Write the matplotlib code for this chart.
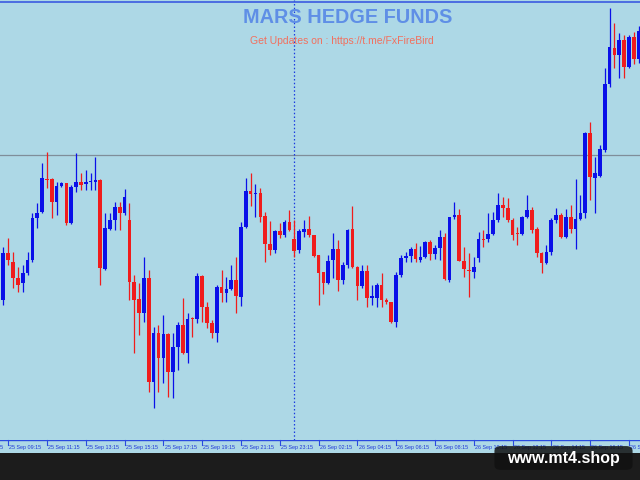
import matplotlib
matplotlib.use("Agg")
import matplotlib.pyplot as plt
from matplotlib.patches import FancyBboxPatch
import numpy as np

# ---- data (price units) ----
opens = [180,227,218,202,197,207,220,262,268,301,301,278,294,297,257,293,298,296,298,298,
         300,211,251,260,273,267,260,198,181,167,202,98,147,122,146,108,133,155,127,162,
         161,204,173,157,147,193,187,191,200,183,253,289,286,287,264,236,230,249,245,258,
         241,230,248,251,245,225,208,197,220,231,200,215,251,213,194,209,182,182,195,180,
         178,158,205,222,224,231,220,223,238,226,232,243,200,263,265,219,210,208,222,241,
         241,246,260,275,272,260,247,246,263,270,251,227,217,228,260,265,243,263,251,261,
         267,347,302,304,330,396,432,425,440,413,443,421]
highs = [233,242,228,213,215,228,267,277,317,328,302,298,298,297,295,327,307,310,307,323,
         301,267,267,278,278,291,277,205,197,223,210,153,155,165,147,147,158,182,167,163,
         207,205,178,160,195,210,203,215,223,258,302,307,296,292,268,259,250,257,260,270,
         260,251,260,264,245,225,208,225,247,240,218,251,274,214,215,215,195,197,207,182,
         178,208,225,228,233,237,234,239,240,235,250,247,263,278,271,233,227,223,248,250,
         267,268,287,283,282,262,253,264,285,273,253,228,235,262,272,267,271,275,301,285,
         348,358,323,335,412,472,457,447,445,445,448,454]
lows  = [175,215,192,188,188,205,218,252,267,292,262,265,293,255,256,288,290,290,290,290,
         195,210,250,250,250,265,180,127,145,158,88,72,88,97,83,82,110,126,117,143,
         157,158,152,142,138,178,178,190,167,174,252,274,263,258,218,225,227,242,243,249,
         223,227,243,243,223,175,186,196,202,189,196,212,212,180,192,173,175,173,173,176,
         157,153,203,218,218,218,218,222,220,221,220,200,198,261,219,203,183,202,218,233,
         238,245,258,263,258,240,235,245,262,247,223,207,216,225,257,242,242,247,231,260,
         262,280,267,303,328,393,412,402,402,412,416,417]
closes = [227,220,202,195,207,220,262,267,302,300,278,294,297,257,293,298,295,298,299,300,
          212,252,260,273,267,283,198,180,167,202,98,147,122,146,108,133,155,127,161,161,
          204,173,157,147,193,187,191,200,184,253,289,286,287,263,236,230,249,245,258,250,
          229,249,251,245,224,207,197,219,231,200,215,250,213,194,209,182,184,195,180,178,
          158,205,222,224,231,221,223,238,226,232,243,201,263,265,219,211,209,213,241,240,
          246,260,275,272,260,245,246,263,270,250,227,217,228,260,265,243,263,251,261,267,
          347,303,307,331,396,433,425,440,413,443,421,449]

tick_labels = ["25 Sep 07:15", "25 Sep 09:15", "25 Sep 11:15", "25 Sep 13:15", "25 Sep 15:15",
               "25 Sep 17:15", "25 Sep 19:15", "25 Sep 21:15", "25 Sep 23:15",
               "26 Sep 02:15", "26 Sep 04:15", "26 Sep 06:15", "26 Sep 08:15",
               "26 Sep 10:15", "26 Sep 12:15", "26 Sep 14:15", "26 Sep 16:15", "26 Sep 18:15"]
hline_price = 325
vline_bar = 60

title = "MARS HEDGE FUNDS"
subtitle = "Get Updates on : https://t.me/FxFireBird"
watermark = "www.mt4.shop"

# ---- figure ----
BG = "#add8e6"
UP = "#0a10e8"
DN = "#f01c1c"
plt.rcParams['font.family'] = ['Liberation Sans', 'DejaVu Sans']

fig = plt.figure(figsize=(6.4, 4.8), dpi=100, facecolor="#1c1c1c")
ax = fig.add_axes([0, 40/480, 1, 440/480])
ax.set_facecolor(BG)
for s in ax.spines.values():
    s.set_visible(False)

n = len(opens)
x = np.arange(n)
o = np.array(opens, float); h = np.array(highs, float)
l = np.array(lows, float); c = np.array(closes, float)
up = c >= o
cols = np.where(up, UP, DN)

ax.vlines(x, l, h, colors=cols, linewidth=0.9, zorder=2)
body_bottom = np.minimum(o, c)
body_h = np.maximum(np.abs(c - o), 1.5)
ax.bar(x, body_h, bottom=body_bottom, width=0.76, color=cols, linewidth=0, zorder=3)

ax.axhline(hline_price, color="#7f8e9a", linewidth=0.9, zorder=1)
ax.axvline(vline_bar, color="#1a3ae0", linewidth=0.9, linestyle=(0, (1.2, 1.8)), zorder=1)
ax.axhline(478.5, color="#3a5ae0", linewidth=1.2, zorder=1)

ax.set_xlim(-0.68, 131.28)
ax.set_ylim(40, 480)
ax.set_xticks([]); ax.set_yticks([])

ax.text(0.544, 0.9605, title, transform=ax.transAxes, ha="center", va="center",
        fontsize=14.3, fontweight="bold", color="#5f8fe6")
ax.text(0.534, 0.9065, subtitle, transform=ax.transAxes, ha="center", va="center",
        fontsize=7.5, color="#f2705e")

# ---- time axis strip ----
tax = fig.add_axes([0, 27/480, 1, 13/480])
tax.set_facecolor(BG)
tax.set_xlim(ax.get_xlim())
tax.set_ylim(0, 1)
for s in tax.spines.values():
    s.set_visible(False)
tax.set_xticks([]); tax.set_yticks([])
tax.axhline(0.97, color="#2a4ae0", linewidth=1.0)
for k, lab in enumerate(tick_labels):
    pos = 1 + 8 * (k - 1)
    tax.plot([pos, pos], [0.97, 0.62], color="#2a4ae0", linewidth=0.8, clip_on=False)
    tax.text(pos + 0.25, 0.42, lab, ha="left", va="center", fontsize=3.9,
             color="#2038d8", clip_on=False)

# ---- watermark ----
box = FancyBboxPatch((497/640, 12/480), 133/640, 20/480,
                     boxstyle="round,pad=0.004,rounding_size=0.01",
                     transform=fig.transFigure, facecolor="#111111", alpha=0.85,
                     edgecolor="none", zorder=10)
fig.patches.append(box)
fig.text(563/640, 22/480, watermark, ha="center", va="center", fontsize=11.5,
         fontweight="bold", color="white", zorder=11)

fig.savefig("out.png", dpi=100, facecolor=fig.get_facecolor())
